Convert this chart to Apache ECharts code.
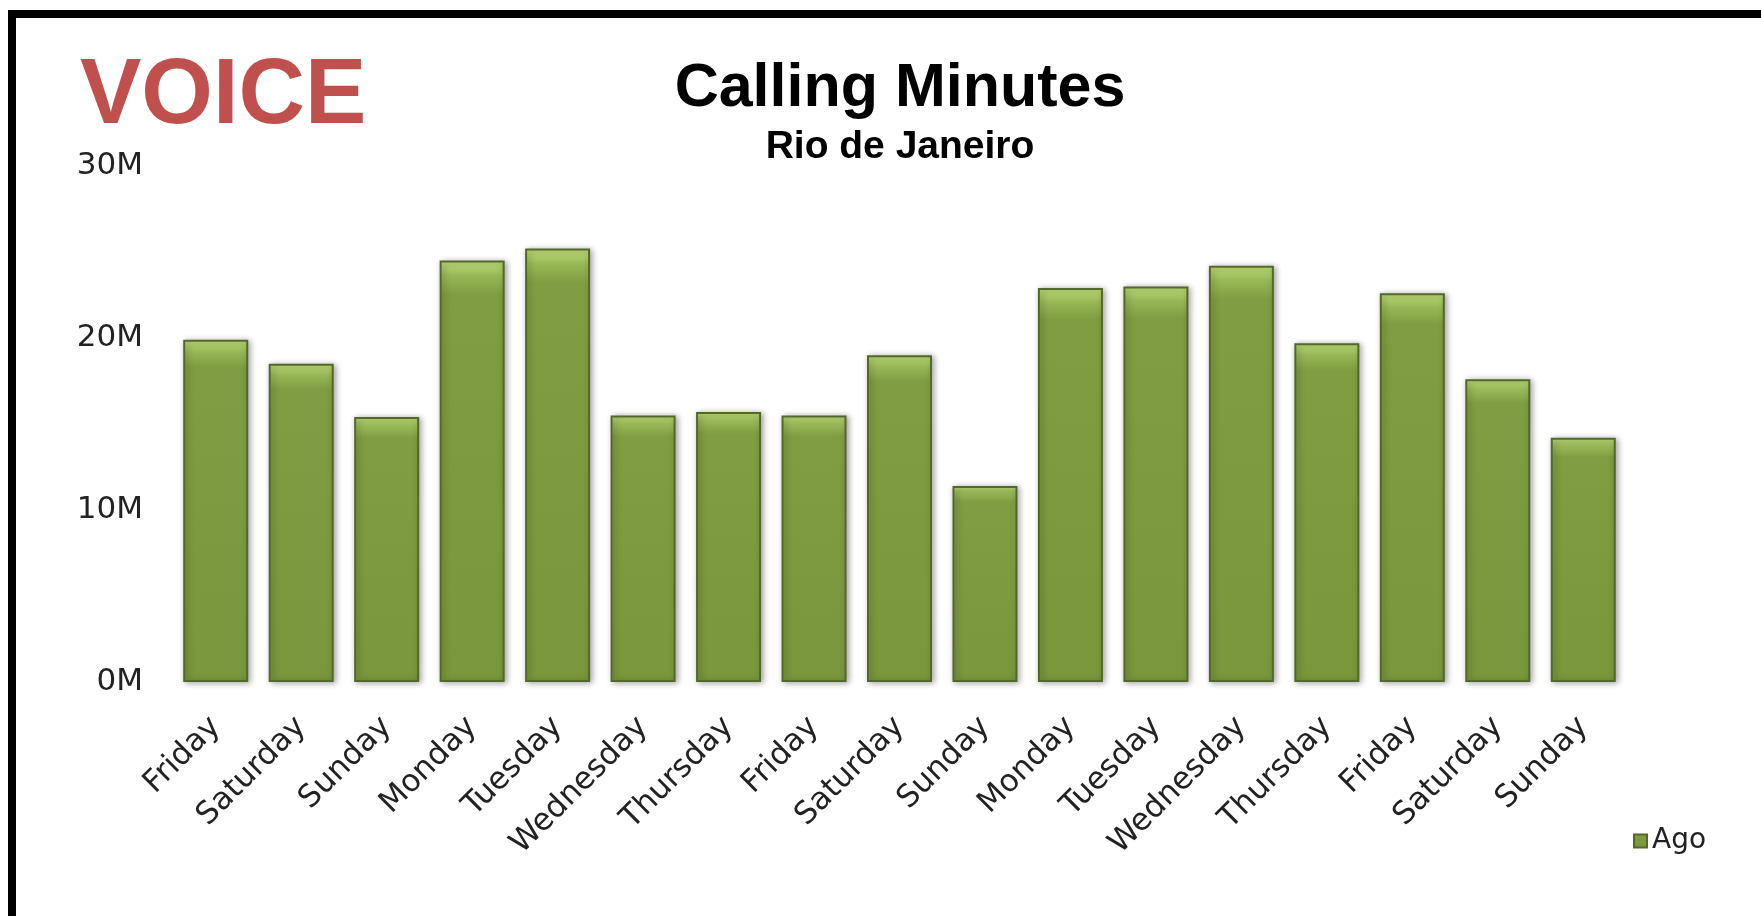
<!DOCTYPE html>
<html lang="en">
<head>
    <meta charset="UTF-8">
    <title>Calling Minutes</title>
    <script src="https://cdn.jsdelivr.net/npm/echarts@6.0.0/dist/echarts.min.js"></script>
    <style>
        html, body { margin: 0; padding: 0; background: #fff; }
        #main { width: 1761px; height: 916px; }
    </style>
</head>
<body>
    <div id="main"></div>
    <script>
        // days shown on the x axis
        var days = ['Friday', 'Saturday', 'Sunday', 'Monday', 'Tuesday', 'Wednesday', 'Thursday',
            'Friday', 'Saturday', 'Sunday', 'Monday', 'Tuesday', 'Wednesday', 'Thursday',
            'Friday', 'Saturday', 'Sunday'];
        // calling minutes, in millions
        var ago = [19.9, 18.5, 15.4, 24.5, 25.2, 15.5, 15.7, 15.5, 19.0, 11.4,
            22.9, 23.0, 24.2, 19.7, 22.6, 17.6, 14.2];
        var yTicks = [0, 10, 20, 30];

        var chart = echarts.init(document.getElementById('main'));
        var axisFont = 'DejaVu Sans';

        var option = {
            backgroundColor: '#ffffff',
            animation: false,
            title: [
                {
                    text: 'VOICE',
                    left: 75, top: 47,
                    textStyle: { color: '#C0504D', fontSize: 92, fontWeight: 'bold', fontFamily: 'Liberation Sans' }
                },
                {
                    text: 'Calling Minutes',
                    left: 895, top: 54, textAlign: 'center',
                    textStyle: { color: '#000', fontSize: 61, fontWeight: 'bold', fontFamily: 'Liberation Sans' }
                },
                {
                    text: 'Rio de Janeiro',
                    left: 895, top: 123, textAlign: 'center',
                    textStyle: { color: '#000', fontSize: 39, fontWeight: 'bold', fontFamily: 'Liberation Sans' }
                }
            ],
            legend: {
                left: 1628, top: 822,
                itemWidth: 13, itemHeight: 13, icon: 'rect',
                textStyle: { fontSize: 28, color: '#222', fontFamily: axisFont },
                data: ['Ago']
            },
            grid: { left: 173, right: 135, top: 166, bottom: 234 },
            xAxis: {
                type: 'category',
                data: days,
                axisLine: { show: false },
                axisTick: { show: false },
                axisLabel: { rotate: 45, margin: 40, fontSize: 31, color: '#222', fontFamily: axisFont, interval: 0 }
            },
            yAxis: {
                type: 'value',
                min: yTicks[0],
                max: yTicks[yTicks.length - 1],
                interval: 10,
                splitLine: { show: false },
                axisLine: { show: false },
                axisLabel: { formatter: '{value}M', margin: 30, fontSize: 31, color: '#222', fontFamily: axisFont }
            },
            series: [{
                name: 'Ago',
                type: 'bar',
                data: ago,
                barWidth: 65,
                itemStyle: {
                    color: new echarts.graphic.LinearGradient(0, 0, 0, 1, [
                        { offset: 0, color: '#C2E07A' },
                        { offset: 0.035, color: '#98B857' },
                        { offset: 0.08, color: '#809D41' },
                        { offset: 1, color: '#7A973C' }
                    ]),
                    borderColor: '#53692A',
                    borderWidth: 2,
                    shadowColor: 'rgba(0,0,0,0.35)',
                    shadowBlur: 6,
                    shadowOffsetX: 2,
                    shadowOffsetY: 1
                }
            }],
            graphic: [
                { type: 'rect', shape: { x: 8, y: 10, width: 8, height: 906 }, style: { fill: '#000' } },
                { type: 'rect', shape: { x: 8, y: 10, width: 1753, height: 8 }, style: { fill: '#000' } }
            ]
        };
        chart.setOption(option);
    </script>
</body>
</html>
